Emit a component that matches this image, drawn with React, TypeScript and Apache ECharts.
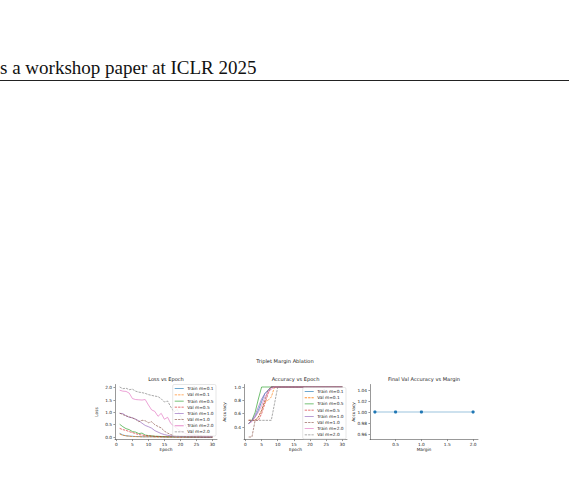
import React, { useEffect, useRef } from "react";
import * as echarts from "echarts";

const headerText = "s a workshop paper at ICLR 2025";
const figureTitle = "Triplet Margin Ablation";
const panelTitles = ["Loss vs Epoch", "Accuracy vs Epoch", "Final Val Accuracy vs Margin"];

const epochs = [1, 2, 3, 4, 5, 6, 7, 8, 9, 10, 11, 12, 13, 14, 15, 16, 17, 18, 19, 20, 21, 22, 23, 24, 25, 26, 27, 28, 29, 30];

const seriesNames = ["Train m=0.1", "Val m=0.1", "Train m=0.5", "Val m=0.5", "Train m=1.0", "Val m=1.0", "Train m=2.0", "Val m=2.0"];
const seriesColors = ["#1f77b4", "#ff7f0e", "#2ca02c", "#d62728", "#9467bd", "#8c564b", "#e377c2", "#7f7f7f"];

const lossTrain01 = [0.15, 0.08, 0.05, 0.04, 0.03, 0.02, 0.02, 0.01, 0.01, 0.01, 0.01, 0.01, 0.01, 0.0, 0.0, 0.0, 0.0, 0.0, 0.0, 0.0, 0.0, 0.0, 0.0, 0.0, 0.0, 0.0, 0.0, 0.0, 0.0, 0.0];
const lossVal01 = [0.12, 0.07, 0.05, 0.03, 0.02, 0.02, 0.01, 0.01, 0.01, 0.01, 0.01, 0.0, 0.0, 0.0, 0.0, 0.0, 0.0, 0.0, 0.0, 0.0, 0.0, 0.0, 0.0, 0.0, 0.0, 0.0, 0.0, 0.0, 0.0, 0.0];
const lossTrain05 = [0.52, 0.42, 0.34, 0.3, 0.22, 0.2, 0.14, 0.16, 0.08, 0.06, 0.05, 0.03, 0.03, 0.02, 0.02, 0.01, 0.01, 0.01, 0.01, 0.01, 0.01, 0.0, 0.0, 0.0, 0.0, 0.0, 0.0, 0.0, 0.0, 0.0];
const lossVal05 = [0.35, 0.3, 0.27, 0.22, 0.18, 0.14, 0.1, 0.08, 0.06, 0.05, 0.04, 0.03, 0.02, 0.02, 0.01, 0.01, 0.01, 0.01, 0.0, 0.0, 0.0, 0.0, 0.0, 0.0, 0.0, 0.0, 0.0, 0.0, 0.0, 0.0];
const lossTrain10 = [0.96, 0.95, 0.86, 0.8, 0.78, 0.72, 0.66, 0.56, 0.47, 0.42, 0.36, 0.26, 0.2, 0.14, 0.1, 0.07, 0.05, 0.04, 0.03, 0.02, 0.02, 0.01, 0.01, 0.01, 0.01, 0.0, 0.0, 0.0, 0.0, 0.0];
const lossVal10 = [0.97, 0.91, 0.86, 0.82, 0.77, 0.72, 0.62, 0.68, 0.66, 0.58, 0.62, 0.5, 0.43, 0.37, 0.24, 0.16, 0.1, 0.06, 0.05, 0.03, 0.03, 0.02, 0.02, 0.01, 0.01, 0.01, 0.0, 0.0, 0.0, 0.0];
const lossTrain20 = [1.9, 1.86, 1.85, 1.78, 1.56, 1.52, 1.51, 1.5, 1.52, 1.3, 1.1, 1.04, 0.84, 0.96, 0.72, 0.8, 0.55, 0.44, 0.34, 0.25, 0.18, 0.12, 0.09, 0.07, 0.05, 0.06, 0.04, 0.03, 0.03, 0.02];
const lossVal20 = [2.03, 1.96, 1.98, 1.92, 1.94, 1.86, 1.82, 1.8, 1.77, 1.72, 1.69, 1.66, 1.64, 1.55, 1.42, 1.46, 1.22, 1.02, 1.12, 0.86, 0.62, 0.36, 0.22, 0.13, 0.09, 0.06, 0.05, 0.04, 0.03, 0.03];

const accTrain01 = [0.45, 0.5, 0.55, 0.65, 0.78, 0.9, 0.95, 1.0, 1.0, 1.0, 1.0, 1.0, 1.0, 1.0, 1.0, 1.0, 1.0, 1.0, 1.0, 1.0, 1.0, 1.0, 1.0, 1.0, 1.0, 1.0, 1.0, 1.0, 1.0, 1.0];
const accVal01 = [0.5, 0.5, 0.5, 0.55, 0.65, 0.78, 0.8, 0.85, 1.0, 1.0, 1.0, 1.0, 1.0, 1.0, 1.0, 1.0, 1.0, 1.0, 1.0, 1.0, 1.0, 1.0, 1.0, 1.0, 1.0, 1.0, 1.0, 1.0, 1.0, 1.0];
const accTrain05 = [0.45, 0.5, 0.62, 0.82, 1.0, 1.0, 1.0, 1.0, 1.0, 1.0, 1.0, 1.0, 1.0, 1.0, 1.0, 1.0, 1.0, 1.0, 1.0, 1.0, 1.0, 1.0, 1.0, 1.0, 1.0, 1.0, 1.0, 1.0, 1.0, 1.0];
const accVal05 = [0.5, 0.5, 0.5, 0.5, 0.6, 0.75, 0.9, 1.0, 1.0, 1.0, 1.0, 1.0, 1.0, 1.0, 1.0, 1.0, 1.0, 1.0, 1.0, 1.0, 1.0, 1.0, 1.0, 1.0, 1.0, 1.0, 1.0, 1.0, 1.0, 1.0];
const accTrain10 = [0.45, 0.5, 0.58, 0.7, 0.82, 0.9, 0.95, 1.0, 1.0, 1.0, 1.0, 1.0, 1.0, 1.0, 1.0, 1.0, 1.0, 1.0, 1.0, 1.0, 1.0, 1.0, 1.0, 1.0, 1.0, 1.0, 1.0, 1.0, 1.0, 1.0];
const accVal10 = [0.25, 0.25, 0.5, 0.55, 0.65, 0.8, 0.95, 1.0, 1.0, 1.0, 1.0, 1.0, 1.0, 1.0, 1.0, 1.0, 1.0, 1.0, 1.0, 1.0, 1.0, 1.0, 1.0, 1.0, 1.0, 1.0, 1.0, 1.0, 1.0, 1.0];
const accTrain20 = [0.45, 0.48, 0.55, 0.62, 0.72, 0.85, 0.92, 0.97, 1.0, 1.0, 1.0, 1.0, 1.0, 1.0, 1.0, 1.0, 1.0, 1.0, 1.0, 1.0, 1.0, 1.0, 1.0, 1.0, 1.0, 1.0, 1.0, 1.0, 1.0, 1.0];
const accVal20 = [0.5, 0.5, 0.5, 0.5, 0.5, 0.5, 0.5, 0.5, 0.75, 1.0, 1.0, 1.0, 1.0, 1.0, 1.0, 1.0, 1.0, 1.0, 1.0, 1.0, 1.0, 1.0, 1.0, 1.0, 1.0, 1.0, 1.0, 1.0, 1.0, 1.0];

const lossSeries = [lossTrain01, lossVal01, lossTrain05, lossVal05, lossTrain10, lossVal10, lossTrain20, lossVal20];
const accSeries = [accTrain01, accVal01, accTrain05, accVal05, accTrain10, accVal10, accTrain20, accVal20];

const margins = [0.1, 0.5, 1.0, 2.0];
const finalValAcc = [1.0, 1.0, 1.0, 1.0];

const epochTicks = [0, 5, 10, 15, 20, 25, 30];
const lossTicks = [0, 0.5, 1.0, 1.5, 2.0];
const accTicks = [0.4, 0.6, 0.8, 1.0];
const marginTicks = [0.5, 1.0, 1.5, 2.0];
const finalAccTicks = [0.96, 0.98, 1.0, 1.02, 1.04];

const FONT = "DejaVu Sans";
const TXT = "#222";

// legend handle glyphs in a 21x10 box (corner specks fix the box size)
const BOX = "M0,0 H0.05 V0.05 H0 Z M20.95,9.95 H21 V10 H20.95 Z";
const SOLID_ICON = "path://M0,4.1 H21 V5.9 H0 Z " + BOX;
const DASH_ICON = "path://M0,4.1 H5.6 V5.9 H0 Z M7.9,4.1 H13.5 V5.9 H7.9 Z M15.8,4.1 H21 V5.9 H15.8 Z " + BOX;

function makeAxis(gridIndex: number, min: number, max: number, ticks: number[], digits: number, name: string, nameGap: number) {
  return {
    type: "value",
    gridIndex,
    min,
    max,
    name,
    nameLocation: "middle",
    nameGap,
    nameMoveOverlap: false,
    nameTextStyle: { fontFamily: FONT, fontSize: 4.3, color: TXT },
    axisLine: { show: true, onZero: false, lineStyle: { color: "#333", width: 0.5 } },
    axisTick: { show: true, length: 1.6, customValues: ticks, lineStyle: { color: "#333", width: 0.5 } },
    axisLabel: {
      show: true,
      customValues: ticks,
      margin: 3,
      fontFamily: FONT,
      fontSize: 4.3,
      color: TXT,
      formatter: (v: number) => v.toFixed(digits),
    },
    splitLine: { show: false },
  };
}

export default function App() {
  const ref = useRef<HTMLDivElement>(null);
  useEffect(() => {
    if (!ref.current) return;
    const chart = echarts.init(ref.current, undefined, { renderer: "svg" });

    const lineSeries: any[] = [];
    seriesNames.forEach((name, i) => {
      const dashed = i % 2 === 1;
      const style = {
        color: seriesColors[i],
        width: 0.8,
        opacity: 0.85,
        type: dashed ? [2.4, 1.0] : "solid",
      };
      lineSeries.push({
        type: "line",
        name,
        xAxisIndex: 0,
        yAxisIndex: 0,
        data: epochs.map((e, k) => [e, lossSeries[i][k]]),
        symbol: "none",
        color: seriesColors[i],
        lineStyle: style,
        z: 2,
      });
      lineSeries.push({
        type: "line",
        name,
        xAxisIndex: 1,
        yAxisIndex: 1,
        data: epochs.map((e, k) => [e, accSeries[i][k]]),
        symbol: "none",
        color: seriesColors[i],
        lineStyle: style,
        z: 2,
      });
    });
    lineSeries.push({
      type: "line",
      name: "final",
      xAxisIndex: 2,
      yAxisIndex: 2,
      data: margins.map((m, k) => [m, finalValAcc[k]]),
      symbol: "circle",
      symbolSize: 3.2,
      itemStyle: { color: "#1f77b4" },
      lineStyle: { color: "#1f77b4", width: 1.2, opacity: 0.45 },
    });

    const legendCommon = {
      data: seriesNames.map((n, i) => ({
        name: n,
        icon: i % 2 === 1 ? DASH_ICON : SOLID_ICON,
        itemStyle: { color: seriesColors[i], opacity: 0.85, borderWidth: 0 },
      })),
      orient: "vertical",
      selectedMode: false,
      itemWidth: 9,
      itemHeight: 4.3,
      itemGap: 1.9,
      padding: [2, 2.5, 2, 2],
      backgroundColor: "rgba(255,255,255,0.8)",
      borderColor: "#cccccc",
      borderWidth: 0.5,
      borderRadius: 1.5,
      textStyle: { fontFamily: FONT, fontSize: 4.3, color: TXT, padding: [0, 0, 0, -1.5] },
    };

    const titleStyle = { fontFamily: FONT, fontSize: 5.1, fontWeight: "normal", color: TXT };

    chart.setOption({
      animation: false,
      backgroundColor: "#ffffff",
      title: [
        { text: figureTitle, left: 285, top: 358, padding: 0, textAlign: "center", textStyle: titleStyle },
        { text: panelTitles[0], left: 166, top: 376, padding: 0, textAlign: "center", textStyle: titleStyle },
        { text: panelTitles[1], left: 295.5, top: 376, padding: 0, textAlign: "center", textStyle: titleStyle },
        { text: panelTitles[2], left: 424, top: 376, padding: 0, textAlign: "center", textStyle: titleStyle },
      ],
      graphic: [
        {
          type: "text",
          x: 0,
          y: 67.5,
          style: { text: headerText, font: '19px "Liberation Serif"', fill: "#111", verticalAlign: "middle", align: "left" },
        },
        {
          type: "line",
          shape: { x1: 0, y1: 80.5, x2: 569, y2: 80.5 },
          style: { stroke: "#222", lineWidth: 1 },
        },
      ],
      grid: [
        { left: 115, top: 384.5, width: 102, height: 55, outerBoundsMode: "none", containLabel: false },
        { left: 244, top: 384.5, width: 103, height: 55, outerBoundsMode: "none", containLabel: false },
        { left: 370, top: 384.5, width: 108, height: 55, outerBoundsMode: "none", containLabel: false },
      ],
      xAxis: [
        makeAxis(0, -0.45, 31.45, epochTicks, 0, "Epoch", 8),
        makeAxis(1, -0.45, 31.45, epochTicks, 0, "Epoch", 8),
        makeAxis(2, 0.005, 2.095, marginTicks, 1, "Margin", 8),
      ],
      yAxis: [
        makeAxis(0, -0.1, 2.13, lossTicks, 1, "Loss", 17),
        makeAxis(1, 0.2125, 1.0375, accTicks, 1, "Accuracy", 17.5),
        makeAxis(2, 0.95, 1.05, finalAccTicks, 2, "Accuracy", 15),
      ],
      legend: [
        { ...legendCommon, right: 353, top: 384.5 },
        { ...legendCommon, right: 223, bottom: 51 },
      ],
      series: lineSeries,
    });
    return () => chart.dispose();
  }, []);
  return <div ref={ref} style={{ position: "absolute", left: 0, top: 0, width: 569, height: 490 }} />;
}
